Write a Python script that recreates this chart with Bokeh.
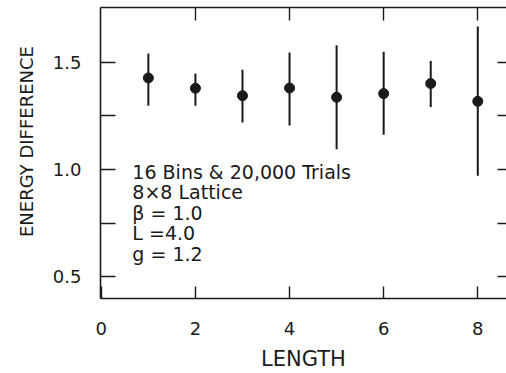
from bokeh.plotting import figure
from bokeh.models import LinearAxis, FixedTicker, Label, Range1d, ColumnDataSource, PrintfTickFormatter
from bokeh.embed import file_html
from bokeh.resources import INLINE

# ---- data ----
lengths = [1, 2, 3, 4, 5, 6, 7, 8]
energy = [1.426, 1.378, 1.343, 1.379, 1.336, 1.353, 1.400, 1.317]
err_low = [1.297, 1.297, 1.218, 1.204, 1.094, 1.162, 1.291, 0.971]
err_high = [1.540, 1.447, 1.464, 1.545, 1.578, 1.548, 1.505, 1.666]

x_ticks = [0, 2, 4, 6, 8]
x_inner_ticks = [2, 4, 6, 8]
y_ticks = [0.5, 1.0, 1.5]
y_minor_ticks = [0.75, 1.25]
info_lines = ["16 Bins & 20,000 Trials", "8\u00d78  Lattice", "\u03b2 = 1.0", "L =4.0", "g = 1.2"]

FONT = "DejaVu Sans"
INK = "#1a1a1a"

src = ColumnDataSource(dict(x=lengths, y=energy, lo=err_low, hi=err_high))

p = figure(width=506, height=373,
           x_range=Range1d(-0.017, 8.61), y_range=Range1d(0.399, 1.754),
           output_backend="svg", toolbar_location=None,
           x_axis_location=None, y_axis_location=None,
           min_border_left=100, min_border_right=0, min_border_top=7, min_border_bottom=74)
p.outline_line_color = None
p.background_fill_color = "white"
p.border_fill_color = "white"
p.xgrid.visible = False
p.ygrid.visible = False

def style_axis(ax):
    ax.axis_line_color = INK
    ax.axis_line_width = 1.6
    ax.major_tick_line_color = INK
    ax.major_tick_line_width = 1.4
    ax.minor_tick_line_color = INK
    ax.minor_tick_line_width = 1.4
    ax.major_tick_out = 0
    ax.minor_tick_out = 0
    ax.major_label_text_font = FONT
    ax.axis_label_text_font = FONT
    ax.major_label_text_color = INK
    ax.axis_label_text_color = INK
    ax.axis_label_text_font_style = "normal"

# bottom axis
xb = LinearAxis(ticker=FixedTicker(ticks=x_ticks), axis_label="LENGTH")
style_axis(xb)
xb.major_tick_in = 12
xb.major_label_standoff = 23
xb.major_label_text_font_size = "18px"
xb.axis_label_text_font_size = "21px"
xb.axis_label_standoff = 9
p.add_layout(xb, "below")

# top axis (ticks only)
xt = LinearAxis(ticker=FixedTicker(ticks=x_inner_ticks),
                major_label_overrides={t: "" for t in x_inner_ticks})
style_axis(xt)
xt.major_tick_in = 13
xt.major_label_standoff = 0
p.add_layout(xt, "above")

# left axis
yl = LinearAxis(ticker=FixedTicker(ticks=y_ticks, minor_ticks=y_minor_ticks),
                axis_label="\u00a0\u00a0\u00a0\u00a0ENERGY DIFFERENCE",
                formatter=PrintfTickFormatter(format="%.1f"))
style_axis(yl)
yl.major_tick_in = 15
yl.minor_tick_in = 15
yl.major_label_standoff = 19
yl.major_label_text_font_size = "18px"
yl.axis_label_text_font_size = "18px"
yl.axis_label_standoff = 13
p.add_layout(yl, "left")

# right axis (ticks only)
yr = LinearAxis(ticker=FixedTicker(ticks=y_ticks, minor_ticks=y_minor_ticks),
                major_label_overrides={t: "" for t in y_ticks})
style_axis(yr)
yr.axis_line_color = None
yr.major_tick_in = 9
yr.minor_tick_in = 9
yr.major_label_standoff = 0
p.add_layout(yr, "right")

# error bars and points
p.segment(x0="x", y0="lo", x1="x", y1="hi", source=src, line_color=INK, line_width=2)
p.scatter(x="x", y="y", source=src, size=10, marker="circle", fill_color=INK, line_color=INK)

# info text
y0 = 0.988
step = 0.095
for i, t in enumerate(info_lines):
    p.add_layout(Label(x=0.66, y=y0 - i * step, text=t, text_font=FONT,
                       text_font_size="19px", text_color=INK, text_baseline="middle",
                       text_align="left"))

open("out.html", "w").write(file_html(p, INLINE))
